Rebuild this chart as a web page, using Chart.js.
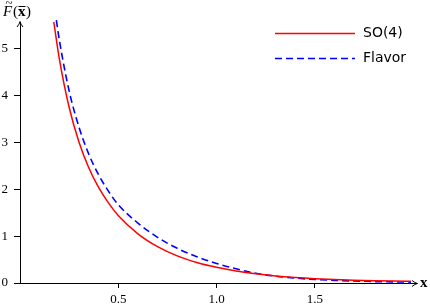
<!DOCTYPE html>
<html lang="en">
<head>
    <meta charset="UTF-8">
    <title>F(x)</title>
    <script src="https://cdn.jsdelivr.net/npm/chart.js"></script>
    <style>
        html, body { margin: 0; padding: 0; background: #fff; }
        #wrap { width: 430px; height: 306px; }
    </style>
</head>
<body>
    <div id="wrap"><canvas id="myChart"></canvas></div>
    <script>
        // values
        const so4X = [0.172, 0.2, 0.25, 0.3, 0.35, 0.4, 0.45, 0.5, 0.6, 0.7, 0.8, 0.9, 1.0, 1.1, 1.2, 1.3, 1.4, 1.5, 1.6, 1.7, 1.8, 1.9, 1.99];
        const so4Y = [5.57, 4.79, 3.75, 3.01, 2.46, 2.04, 1.71, 1.44, 1.05, 0.776, 0.58, 0.439, 0.335, 0.256, 0.195, 0.151, 0.118, 0.093, 0.075, 0.061, 0.050, 0.042, 0.037];
        const flavorX = [0.185, 0.2, 0.25, 0.3, 0.35, 0.4, 0.45, 0.5, 0.6, 0.7, 0.8, 0.9, 1.0, 1.1, 1.2, 1.3, 1.4, 1.5, 1.6, 1.7, 1.8, 1.9, 1.99];
        const flavorY = [5.61, 5.19, 4.10, 3.33, 2.75, 2.31, 1.96, 1.67, 1.28, 0.975, 0.74, 0.56, 0.417, 0.303, 0.207, 0.146, 0.105, 0.076, 0.057, 0.042, 0.031, 0.024, 0.019];
        const xTicks = [0.5, 1.0, 1.5];
        const yTicks = [0, 1, 2, 3, 4, 5];
        const seriesNames = ['SO(4)', 'Flavor'];

        const pts = (xs, ys) => xs.map((x, i) => ({x: x, y: ys[i]}));

        // axis arrows, axis titles and legend
        const decor = {
            id: 'decor',
            afterDraw(chart) {
                const ctx = chart.ctx;
                const a = chart.chartArea;
                ctx.save();
                ctx.strokeStyle = '#000';
                ctx.fillStyle = '#000';
                ctx.lineWidth = 1;
                // x axis extension + arrow
                ctx.beginPath();
                ctx.moveTo(a.right, a.bottom + 0.5);
                ctx.lineTo(a.right + 4, a.bottom + 0.5);
                ctx.stroke();
                ctx.beginPath();
                ctx.moveTo(a.right - 1, a.bottom - 2.5);
                ctx.quadraticCurveTo(a.right + 2, a.bottom, a.right + 4.5, a.bottom + 0.5);
                ctx.quadraticCurveTo(a.right + 2, a.bottom + 1, a.right - 1, a.bottom + 3.5);
                ctx.stroke();
                // y axis arrow
                ctx.beginPath();
                ctx.moveTo(a.left - 3, a.top + 5);
                ctx.quadraticCurveTo(a.left - 0.5, a.top + 2, a.left, a.top - 0.5);
                ctx.quadraticCurveTo(a.left + 0.5, a.top + 2, a.left + 3, a.top + 5);
                ctx.stroke();

                // y title  F~(x-)
                ctx.textBaseline = 'alphabetic';
                ctx.font = 'italic 15px "Liberation Serif"';
                ctx.fillText('F', 3, 16);
                ctx.font = '13px "Liberation Serif"';
                ctx.fillText('~', 5.5, 7);
                ctx.font = '15px "Liberation Serif"';
                ctx.fillText('(', 13, 16);
                ctx.font = 'bold 15px "Liberation Serif"';
                ctx.fillText('x', 18, 16);
                ctx.fillRect(18.5, 6, 7, 1);
                ctx.font = '15px "Liberation Serif"';
                ctx.fillText(')', 26, 16);

                // x title
                ctx.font = 'bold 15px "Liberation Serif"';
                ctx.textBaseline = 'middle';
                ctx.fillText('x', 420, a.bottom);

                // legend
                ctx.font = '14px "DejaVu Sans"';
                chart.data.datasets.forEach((ds, i) => {
                    const y = 33.5 + i * 25;
                    ctx.beginPath();
                    ctx.strokeStyle = ds.borderColor;
                    ctx.lineWidth = ds.borderWidth;
                    ctx.setLineDash(ds.borderDash || []);
                    ctx.moveTo(275, y);
                    ctx.lineTo(355, y);
                    ctx.stroke();
                    ctx.setLineDash([]);
                    ctx.fillStyle = '#000';
                    ctx.fillText(ds.label, 363, y);
                });
                ctx.restore();
            }
        };

        const config = {
            type: 'line',
            data: {
                datasets: [
                    {
                        label: seriesNames[0],
                        data: pts(so4X, so4Y),
                        borderColor: '#ff0000',
                        borderWidth: 1.5,
                        pointRadius: 0,
                        cubicInterpolationMode: 'monotone',
                        clip: false
                    },
                    {
                        label: seriesNames[1],
                        data: pts(flavorX, flavorY),
                        borderColor: '#0000ff',
                        borderWidth: 1.6,
                        borderDash: [7, 4],
                        pointRadius: 0,
                        cubicInterpolationMode: 'monotone',
                        clip: false
                    }
                ]
            },
            options: {
                responsive: true,
                maintainAspectRatio: false,
                animation: false,
                layout: { padding: { top: 22, right: 17, left: 0, bottom: 0 } },
                plugins: {
                    legend: { display: false },
                    tooltip: { enabled: false }
                },
                scales: {
                    x: {
                        type: 'linear',
                        min: 0,
                        max: 2.0,
                        afterBuildTicks: s => { s.ticks = xTicks.map(v => ({value: v})); },
                        afterFit: s => { s.height = 23; },
                        grid: { drawOnChartArea: false, drawTicks: true, tickLength: 5, color: '#000' },
                        border: { color: '#000', width: 1 },
                        ticks: {
                            color: '#000',
                            padding: 4,
                            maxRotation: 0,
                            font: { family: '"Liberation Serif"', size: 13 },
                            callback: v => v.toFixed(1)
                        }
                    },
                    y: {
                        min: 0,
                        max: 5.57,
                        afterBuildTicks: s => { s.ticks = yTicks.map(v => ({value: v})); },
                        afterFit: s => { s.width = 20; },
                        grid: { drawOnChartArea: false, drawTicks: true, tickLength: 6, color: '#000' },
                        border: { color: '#000', width: 1 },
                        ticks: {
                            color: '#000',
                            padding: 6,
                            font: { family: '"Liberation Serif"', size: 13 },
                            callback: v => String(v)
                        }
                    }
                }
            },
            plugins: [decor]
        };

        window.onload = function() {
            const ctx = document.getElementById('myChart').getContext('2d');
            new Chart(ctx, config);
        };
    </script>
</body>
</html>
